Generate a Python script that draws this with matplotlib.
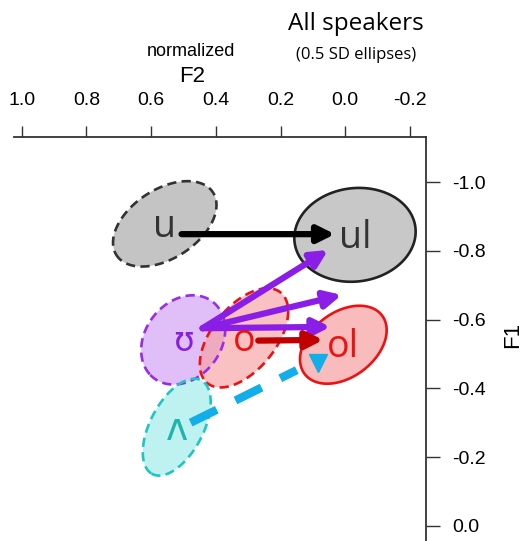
import numpy as np
import matplotlib
matplotlib.use("Agg")
import matplotlib.pyplot as plt
from matplotlib.patches import Polygon

# vowel ellipses (normalized F2, F1 means, 0.5 SD ellipse semi-axes, angle)
vowels = ["u", "ul", "ʊ", "o", "ol", "ʌ"]
f2_mean = [0.558, -0.030, 0.501, 0.313, 0.006, 0.521]
f1_mean = [-0.879, -0.847, -0.541, -0.547, -0.527, -0.287]
semi_major = [0.175, 0.188, 0.144, 0.174, 0.147, 0.156]
semi_minor = [0.102, 0.136, 0.114, 0.096, 0.096, 0.081]
angle_deg = [30, 6, 45, 48, 33, 60]
label_size = [27, 27, 24, 27, 27, 27]

# arrows: (start F2, start F1) -> (end F2, end F1)
arrow_from = [(0.506, -0.849), (0.441, -0.575), (0.441, -0.575), (0.441, -0.575), (0.269, -0.539)]
arrow_to = [(0.032, -0.849), (0.053, -0.803), (0.011, -0.672), (0.046, -0.579), (0.068, -0.541)]
caret_from = (0.478, -0.300)
caret_to = (0.150, -0.453)
caret_mark = (0.084, -0.474)

edge_col = ["#333333", "#222222", "#9a2be8", "#ee1111", "#ee1111", "#20c4c0"]
fill_col = ["#c4c4c4", "#c8c8c8", "#d6aaf7", "#f7a0a0", "#f7a0a0", "#a8eeec"]
fill_alpha = [1.0, 1.0, 0.75, 0.65, 0.7, 0.75]
edge_ls = ["--", "-", "--", "--", "-", "--"]
label_col = ["#333333", "#333333", "#8a1ee0", "#ee1111", "#ee1111", "#20b4ac"]
arrow_col = ["black", "#8a1ee6", "#8a1ee6", "#8a1ee6", "#c00000"]

fig = plt.figure(figsize=(5.25, 5.41), dpi=100)
ax = fig.add_axes([14/525, 0, 412/525, 1 - 136.7/541])

t = np.linspace(0, 2*np.pi, 200)
for i in range(len(vowels)):
    th = np.radians(angle_deg[i])
    ex = semi_major[i]*np.cos(t)
    ey = semi_minor[i]*np.sin(t)
    px = f2_mean[i] + ex*np.cos(th) - ey*np.sin(th)
    py = f1_mean[i] + ex*np.sin(th) + ey*np.cos(th)
    ax.add_patch(Polygon(np.column_stack([px, py]), closed=True,
                         facecolor=fill_col[i], alpha=fill_alpha[i], edgecolor="none", zorder=1))
    ax.add_patch(Polygon(np.column_stack([px, py]), closed=True, fill=False,
                         edgecolor=edge_col[i], lw=1.9, ls=(0, (3.5, 2)) if edge_ls[i] == "--" else "-",
                         zorder=2))

for i in range(len(vowels)):
    ax.text(f2_mean[i], f1_mean[i] + 0.008, vowels[i], color=label_col[i], fontsize=label_size[i],
            ha="center", va="center", family=["Open Sans", "DejaVu Sans"], zorder=5)

for s, e, c in zip(arrow_from, arrow_to, arrow_col):
    ax.annotate("", xy=e, xytext=s,
                arrowprops=dict(arrowstyle="-|>,head_length=1.0,head_width=0.5", lw=4.5,
                                color=c, shrinkA=0, shrinkB=0), zorder=4)

ax.plot([caret_from[0], caret_to[0]], [caret_from[1], caret_to[1]], color="#12aeea",
        lw=6, ls=(0, (3.5, 2.5)), solid_capstyle="butt", zorder=4)
ax.plot([caret_mark[0]], [caret_mark[1]], marker="v", color="#12aeea", ms=13, zorder=4)

ax.set_xlim(1.024, -0.2495)
ax.set_ylim(0.0446, -1.1328)
for s in ["left", "bottom"]:
    ax.spines[s].set_visible(False)
for s in ["top", "right"]:
    ax.spines[s].set_color("#333333")
    ax.spines[s].set_linewidth(1.3)
ax.xaxis.tick_top()
ax.yaxis.tick_right()
ax.set_xticks([1.0, 0.8, 0.6, 0.4, 0.2, 0.0, -0.2])
ax.set_xticklabels(["1.0", "0.8", "0.6", "0.4", "0.2", "0.0", "-0.2"])
ax.set_yticks([-1.0, -0.8, -0.6, -0.4, -0.2, 0.0])
ax.set_yticklabels(["-1.0", "-0.8", "-0.6", "-0.4", "-0.2", "0.0"])
ax.tick_params(axis="x", length=8, width=1, color="#333333", pad=12, labelsize=14)
ax.tick_params(axis="y", length=10, width=1, color="#333333", pad=9, labelsize=14)
for lab in ax.get_xticklabels() + ax.get_yticklabels():
    lab.set_family("Liberation Sans")

fig.text(513/525, 1 - 335/541, "F1", rotation=90, ha="center", va="center",
         fontsize=16, family="Liberation Sans")
fig.text(192/525, 1 - 76/541, "F2", ha="center", va="center",
         fontsize=16, family="Liberation Sans")
fig.text(191/525, 1 - 52/541, "normalized", ha="center", va="center",
         fontsize=13, family="Liberation Sans")
fig.text(356/525, 1 - 24/541, "All speakers", ha="center", va="center",
         fontsize=17.5, family="Open Sans")
fig.text(356/525, 1 - 55/541, "(0.5 SD ellipses)", ha="center", va="center",
         fontsize=12, family="Open Sans")

fig.savefig("out.png", dpi=100)
